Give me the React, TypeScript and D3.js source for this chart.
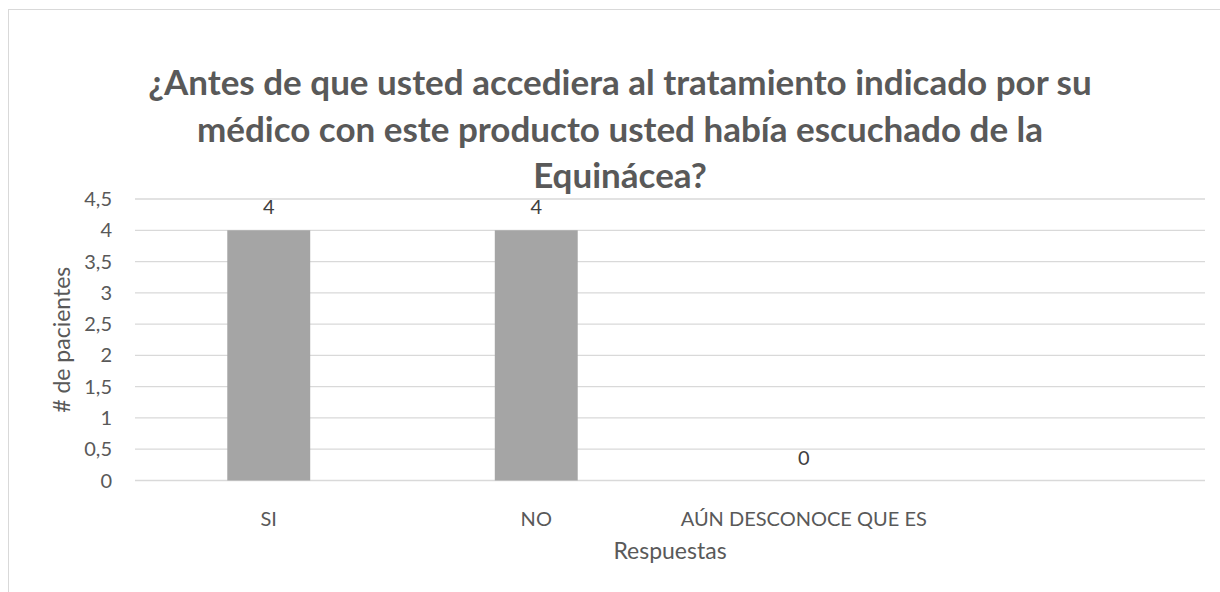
import { FC } from 'react';
import * as d3 from 'd3';

const TITLE_LINES = [
  '¿Antes de que usted accediera al tratamiento indicado por su',
  'médico con este producto usted había escuchado de la',
  'Equinácea?',
];
const CATEGORIES = ['SI', 'NO', 'AÚN DESCONOCE QUE ES', ''];
const VALUES: (number | null)[] = [4, 4, 0, null];
const Y_TICKS = [0, 0.5, 1, 1.5, 2, 2.5, 3, 3.5, 4, 4.5];
const Y_TITLE = '# de pacientes';
const X_TITLE = 'Respuestas';

const WIDTH = 1220;
const HEIGHT = 592;
const FONT = 'Lato, "Open Sans", sans-serif';
const TEXT = '#595959';

const App: FC = () => {
  const plot = { left: 135, right: 1205, top: 199, bottom: 480.5 };

  const xScale = d3
    .scaleBand<string>()
    .domain(CATEGORIES)
    .range([plot.left, plot.right])
    .paddingInner(0.69)
    .paddingOuter(0.345);
  const yScale = d3.scaleLinear().domain([0, 4.5]).range([plot.bottom, plot.top]);
  const fmt = (v: number) => String(v).replace('.', ',');
  const center = (c: string) => (xScale(c) ?? 0) + xScale.bandwidth() / 2;

  return (
    <svg
      width={WIDTH}
      height={HEIGHT}
      style={{ position: 'absolute', left: 0, top: 0, background: '#fff' }}
      fontFamily={FONT}
    >
      <rect x={8.5} y={9.5} width={1300} height={700} fill="#fff" stroke="#d9d9d9" />

      {TITLE_LINES.map((line, i) => (
        <text
          key={i}
          x={620}
          y={95 + i * 46.5}
          textAnchor="middle"
          fontSize={35}
          fontWeight={700}
          fill={TEXT}
        >
          {line}
        </text>
      ))}

      {Y_TICKS.map((t) => (
        <g key={t}>
          <line
            x1={plot.left}
            x2={plot.right}
            y1={yScale(t)}
            y2={yScale(t)}
            stroke="#d9d9d9"
            strokeWidth={1.3}
          />
          <text
            x={112}
            y={yScale(t)}
            dy="0.35em"
            textAnchor="end"
            fontSize={20}
            fill={TEXT}
          >
            {fmt(t)}
          </text>
        </g>
      ))}

      {CATEGORIES.map((c, i) => {
        const v = VALUES[i];
        if (v === null) return null;
        return (
          <g key={c}>
            {v > 0 && (
              <rect
                x={xScale(c)}
                y={yScale(v)}
                width={xScale.bandwidth()}
                height={yScale(0) - yScale(v)}
                fill="#a5a5a5"
              />
            )}
            <text
              x={center(c)}
              y={yScale(v) - 16}
              textAnchor="middle"
              fontSize={20}
              fill="#404040"
            >
              {fmt(v)}
            </text>
          </g>
        );
      })}

      {CATEGORIES.map((c) => (
        <text
          key={'l' + c}
          x={center(c)}
          y={526}
          textAnchor="middle"
          fontSize={20}
          fill={TEXT}
        >
          {c}
        </text>
      ))}

      <text
        x={(plot.left + plot.right) / 2}
        y={559}
        textAnchor="middle"
        fontSize={23}
        fill={TEXT}
      >
        {X_TITLE}
      </text>
      <text
        transform={`translate(70, ${(plot.top + plot.bottom) / 2}) rotate(-90)`}
        textAnchor="middle"
        fontSize={23}
        fill={TEXT}
      >
        {Y_TITLE}
      </text>
    </svg>
  );
};

export default App;
